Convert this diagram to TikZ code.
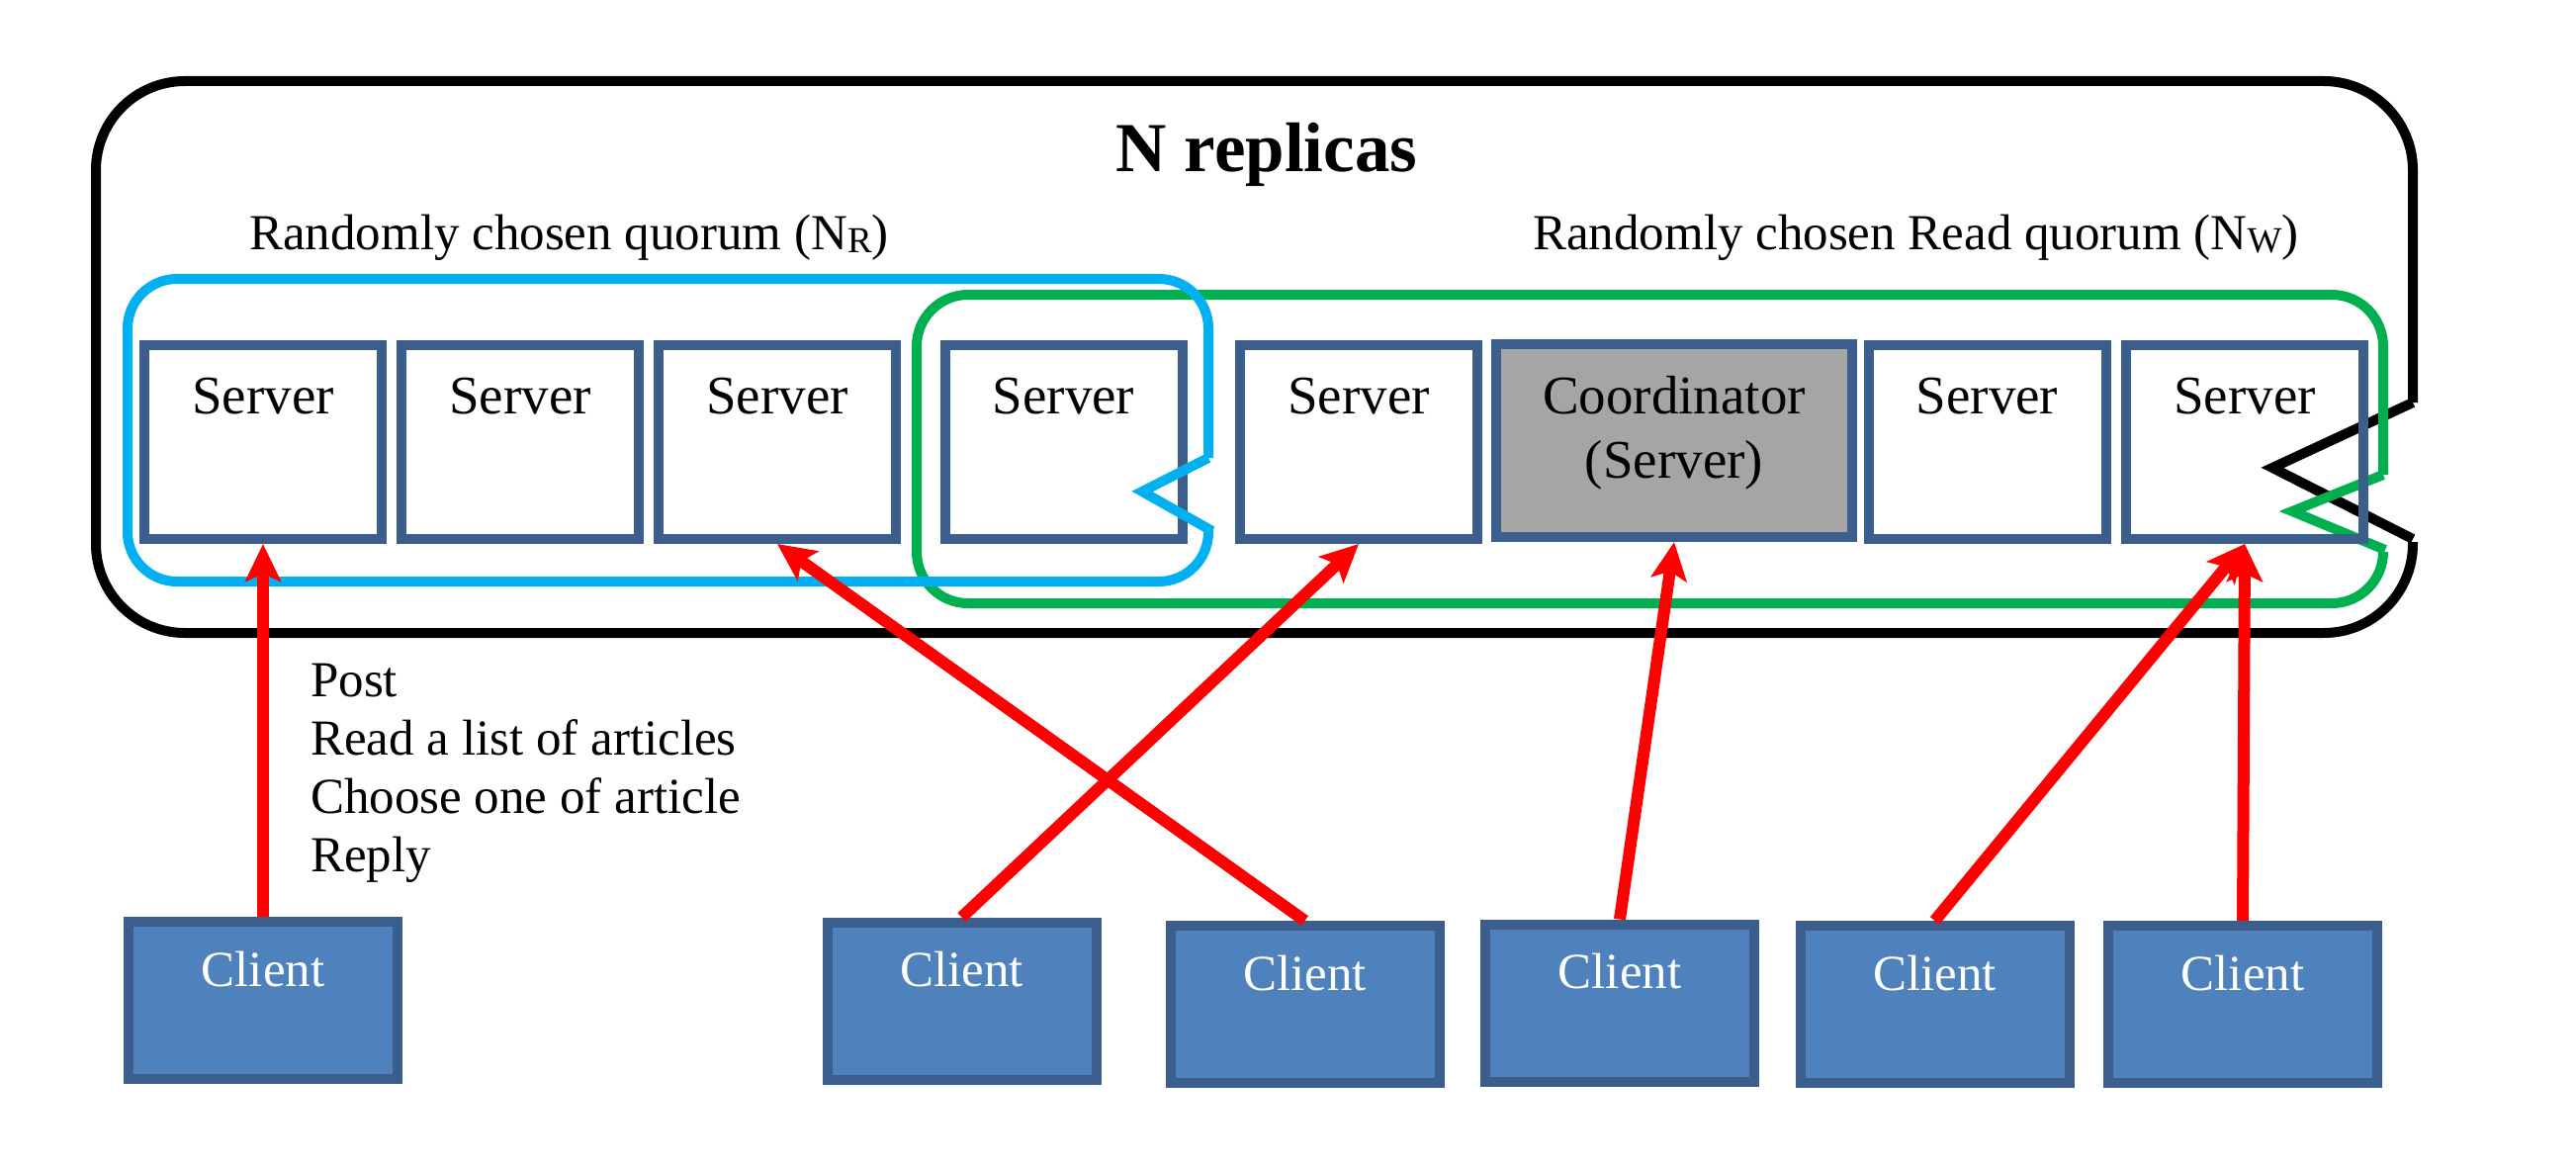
\documentclass[tikz,border=0pt]{standalone}
\usepackage{fontspec}
\setmainfont{Liberation Serif}
\usetikzlibrary{arrows.meta}
\definecolor{srvborder}{HTML}{3B5E8C}
\definecolor{clifill}{HTML}{4F81BD}
\definecolor{coordfill}{HTML}{A5A5A5}
\definecolor{nrblue}{HTML}{00B0F0}
\definecolor{nwgreen}{HTML}{00B050}
\definecolor{arrred}{HTML}{FF0000}
\begin{document}
\begin{tikzpicture}[x=1pt,y=-1pt,
  srv/.style={draw=srvborder, line width=10pt, minimum width=240pt, minimum height=196pt, inner sep=0pt},
  cli/.style={draw=srvborder, fill=clifill, line width=10pt, minimum width=272pt, minimum height=159pt, inner sep=0pt},
  stxt/.style={anchor=base, inner sep=0pt, font=\fontsize{55}{66}\selectfont},
  ctxt/.style={anchor=base, inner sep=0pt, text=white, font=\fontsize{51}{61}\selectfont},
  qtxt/.style={anchor=base west, inner sep=0pt, font=\fontsize{51}{60}\selectfont},
  loopline/.style={line width=10pt, line join=miter},
  arr/.style={draw=arrred, line width=12pt, -{Stealth[length=38pt, width=36pt, inset=8pt]}},
]
\useasboundingbox[fill=white] (0,0) rectangle (2605,1180);

% outer N replicas boundary
\draw[loopline, black, rounded corners=90pt] (2440,548) -- (2440,640) -- (97,640) -- (97,82) -- (2440,82) -- (2440,407);
\draw[loopline, black] (2440,407) -- (2298,473) -- (2440,545);

% green quorum
\draw[loopline, nwgreen, rounded corners=52pt] (2410,558) -- (2410,610) -- (927,610) -- (927,298) -- (2410,298) -- (2410,480);
\draw[loopline, nwgreen] (2410,480) -- (2318,517) -- (2412,556);

% servers
\node[srv] (s1) at (266,447) {};
\node[srv] (s2) at (526,447) {};
\node[srv] (s3) at (786,447) {};
\node[srv] (s4) at (1075.5,447) {};
\node[srv] (s5) at (1374,447) {};
\node[srv, fill=coordfill, minimum width=360pt, minimum height=195pt] (co) at (1693,445.5) {};
\node[srv] (s7) at (2009.5,447) {};
\node[srv] (s8) at (2270,447) {};

\node[stxt] (t1) at ([yshift=-74pt]s1.north) {Server};
\node[stxt] (t2) at ([yshift=-74pt]s2.north) {Server};
\node[stxt] (t3) at ([yshift=-74pt]s3.north) {Server};
\node[stxt] (t4) at ([yshift=-74pt]s4.north) {Server};
\node[stxt] (t5) at ([yshift=-74pt]s5.north) {Server};
\node[stxt, anchor=north, align=center, font=\fontsize{55}{65}\selectfont] (tco) at (1693,380) {Coordinator\\(Server)};
\node[stxt] (t7) at ([yshift=-74pt]s7.north) {Server};
\node[stxt] (t8) at ([yshift=-74pt]s8.north) {Server};

% blue quorum
\draw[loopline, nrblue, rounded corners=50pt] (1222,536) -- (1222,588) -- (129,588) -- (129,282) -- (1222,282) -- (1222,463);
\draw[loopline, nrblue] (1222,463) -- (1155,497) -- (1226,537);

% titles
\node[anchor=base, inner sep=0pt, font=\bfseries\fontsize{71}{80}\selectfont] (title) at (1281,173) {N replicas};
\node[qtxt] (qr) at (252,252.5) {Randomly chosen quorum (N{\fontsize{37}{37}\selectfont\raisebox{-3pt}{R}})};
\node[qtxt] (qw) at (1550,252.5) {Randomly chosen Read quorum (N{\fontsize{37}{37}\selectfont\raisebox{-3pt}{W}})};

\node[anchor=north west, inner sep=0pt, align=left, font=\fontsize{51}{59}\selectfont] (ops) at (314,671) {Post\\Read a list of articles\\Choose one of article\\Reply};

% clients
\node[cli] (c1) at (266,1011.5) {};
\node[cli] (c2) at (972.5,1012) {};
\node[cli] (c3) at (1319.5,1015.5) {};
\node[cli] (c4) at (1638,1014) {};
\node[cli] (c5) at (1956.5,1015.5) {};
\node[cli] (c6) at (2268,1015.5) {};

\node[ctxt] (ct1) at ([yshift=-70pt]c1.north) {Client};
\node[ctxt] (ct2) at ([yshift=-70pt]c2.north) {Client};
\node[ctxt] (ct3) at ([yshift=-70pt]c3.north) {Client};
\node[ctxt] (ct4) at ([yshift=-70pt]c4.north) {Client};
\node[ctxt] (ct5) at ([yshift=-70pt]c5.north) {Client};
\node[ctxt] (ct6) at ([yshift=-70pt]c6.north) {Client};

% arrows
\draw[arr] (c1.north) -- (s1.south);
\draw[arr] (c3.north) -- (s3.south);
\draw[arr] (c2.north) -- (s5.south);
\draw[arr] (c4.north) -- (co.south);
\draw[arr] (c5.north) -- (s8.south);
\draw[arr] (c6.north) -- (s8.south);
\end{tikzpicture}
\end{document}
